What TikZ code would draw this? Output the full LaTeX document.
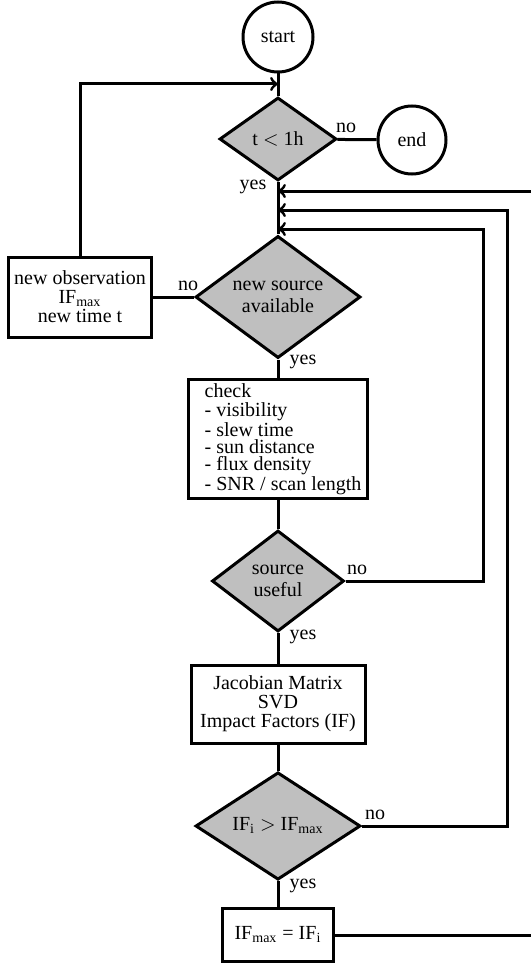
\documentclass[tikz,border=0pt]{standalone}
\usepackage{fontspec}
\setmainfont{Liberation Serif}
\usetikzlibrary{shapes.geometric}

\begin{document}
\begin{tikzpicture}[
        % 1 unit = 1 pixel of the reference
        x=0.5pt, y=-0.5pt,
        line width=1.5pt,
        font=\fontsize{10}{11}\selectfont,
        terminal/.style={draw, circle, inner sep=0pt, minimum size=35pt},
        decision/.style={draw, diamond, fill=gray!50, inner sep=0pt, align=center},
        block/.style={draw, rectangle, inner sep=2pt, align=center},
        lbl/.style={inner sep=0pt}
    ]
    \useasboundingbox (0,0) rectangle (530,963);

    % --- nodes ---
    \node[terminal] (start) at (278,37) {start};
    \node[decision, minimum width=58.5pt, minimum height=41.5pt] (tlim) at (278,139) {t $<$ 1h};
    \node[terminal, minimum size=34pt] (end) at (412,140) {end};
    \node[decision, minimum width=82.5pt, minimum height=56.5pt] (newsrc) at (278,297) {new source\\available};
    \node[block, minimum width=71.5pt, minimum height=40pt,
          font=\fontsize{10}{9.5}\selectfont] (newobs) at (80,297)
          {new observation\\IF\textsubscript{max}\\new time t};
    \node[block, align=left, minimum width=89.5pt, minimum height=58pt,
          font=\fontsize{10}{8.5}\selectfont] (check) at (278,439)
          {\hspace*{5pt}check\\[1pt]\hspace*{5pt}- visibility\\\hspace*{5pt}- slew time\\\hspace*{5pt}- sun distance\\
           \hspace*{5pt}- flux density\\\hspace*{5pt}- SNR / scan length};
    \node[decision, minimum width=66pt, minimum height=50.5pt] (useful) at (278,581) {source\\useful};
    \node[block, minimum width=87pt, minimum height=39pt,
          font=\fontsize{10}{9.5}\selectfont] (jac) at (278,704)
          {Jacobian Matrix\\SVD\\Impact Factors (IF)};
    \node[decision, minimum width=82.5pt, minimum height=52.5pt] (ifcmp) at (278,826)
          {IF\textsubscript{i} $>$ IF\textsubscript{max}};
    \node[block, minimum width=55.5pt, minimum height=26.5pt] (upd) at (278,935)
          {IF\textsubscript{max} = IF\textsubscript{i}};

    % --- join points ---
    \coordinate (j1) at (278,84);
    \coordinate (j2) at (278,191);
    \coordinate (j3) at (278,210);
    \coordinate (j4) at (278,229);

    % --- main line ---
    \draw (start) -- (tlim);
    \draw (tlim) -- (end);
    \draw (tlim) -- (newsrc);
    \draw (newsrc) -- (newobs);
    \draw (newsrc) -- (check);
    \draw (check) -- (useful);
    \draw (useful) -- (jac);
    \draw (jac) -- (ifcmp);
    \draw (ifcmp) -- (upd);

    % --- loops back ---
    \draw[->] (newobs.north) |- (j1);
    \draw[->] (upd.east) -- (545,935) |- (j2);
    \draw[->] (ifcmp.east) -- (507,826) |- (j3);
    \draw[->] (useful.east) -- (483,581) |- (j4);

    % --- labels ---
    \node[lbl] (no1) at (346,128) {no};
    \node[lbl] (yes1) at (253,187) {yes};
    \node[lbl] (no2) at (188,286) {no};
    \node[lbl] (yes2) at (303,362) {yes};
    \node[lbl] (no3) at (357,570) {no};
    \node[lbl] (yes3) at (303,637) {yes};
    \node[lbl] (no4) at (375,815) {no};
    \node[lbl] (yes4) at (303,886) {yes};

\end{tikzpicture}
\end{document}
